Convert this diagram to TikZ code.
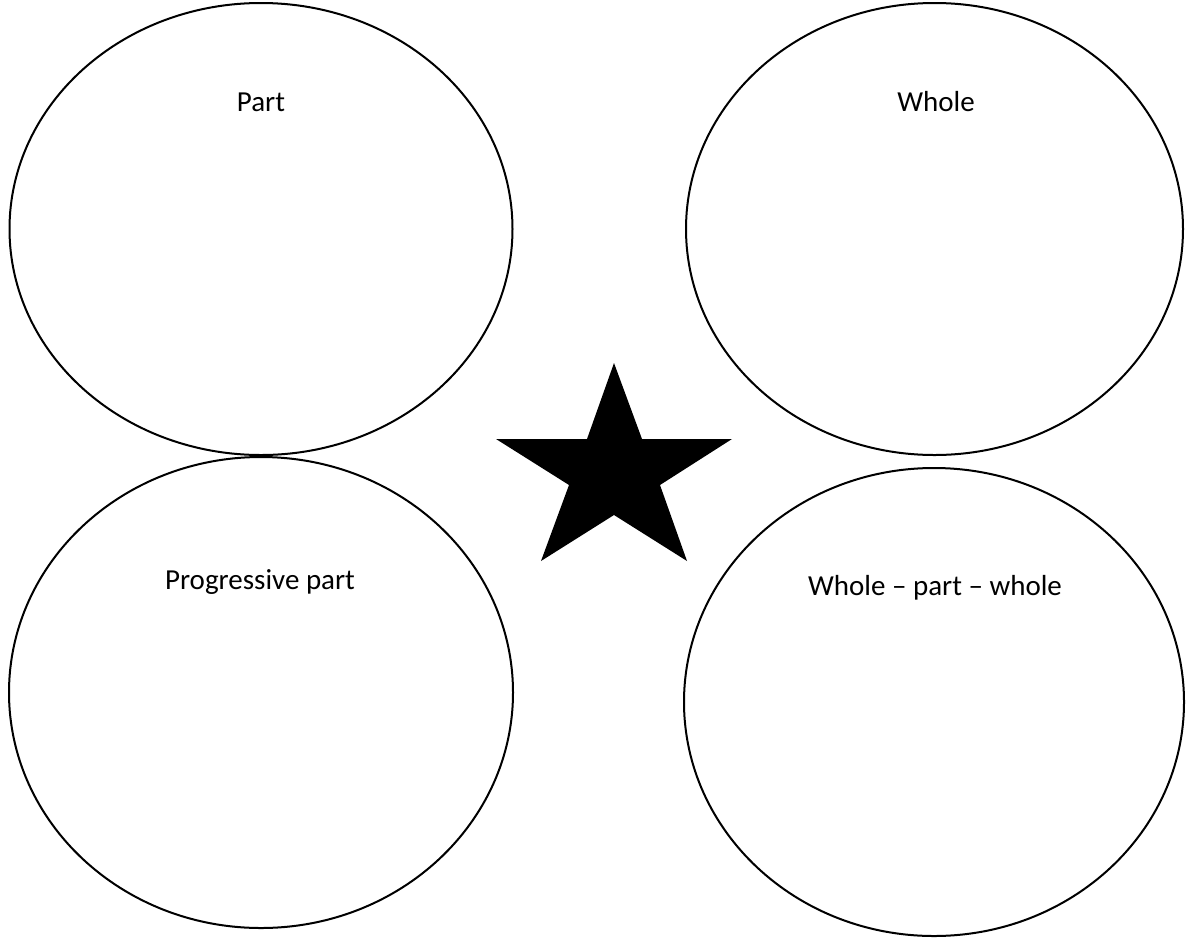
\documentclass[tikz,border=0pt]{standalone}
\usepackage{fontspec}
\setmainfont{Carlito}
\usetikzlibrary{shapes.geometric}
\begin{document}
\begin{tikzpicture}[x=1pt,y=-1pt,
  oval/.style={draw=black,line width=2pt,ellipse,inner sep=0pt},
  lbl/.style={anchor=base,inner sep=0pt,font=\fontsize{29}{35}\selectfont}]
\useasboundingbox (0,0) rectangle (1186,938);
\node[oval,minimum width=503pt,minimum height=452pt] (part) at (261,229) {};
\node[oval,minimum width=497pt,minimum height=452pt] (whole) at (934.5,229) {};
\node[oval,minimum width=504pt,minimum height=471pt] (prog) at (261,692.5) {};
\node[oval,minimum width=500pt,minimum height=468pt] (wpw) at (934,702) {};
\node[lbl] (tpart) at (261,111) {Part};
\node[lbl] (twhole) at (936,111) {Whole};
\node[lbl] (tprog) at (260,589) {Progressive part};
\node[lbl] (twpw) at (935,595) {Whole – part – whole};
\fill[black] (614,363) -- (642,439) -- (732,439) -- (660,485) -- (687,561)
  -- (614,515) -- (541,561) -- (569,485) -- (496,439) -- (587,439) -- cycle;
\end{tikzpicture}
\end{document}
